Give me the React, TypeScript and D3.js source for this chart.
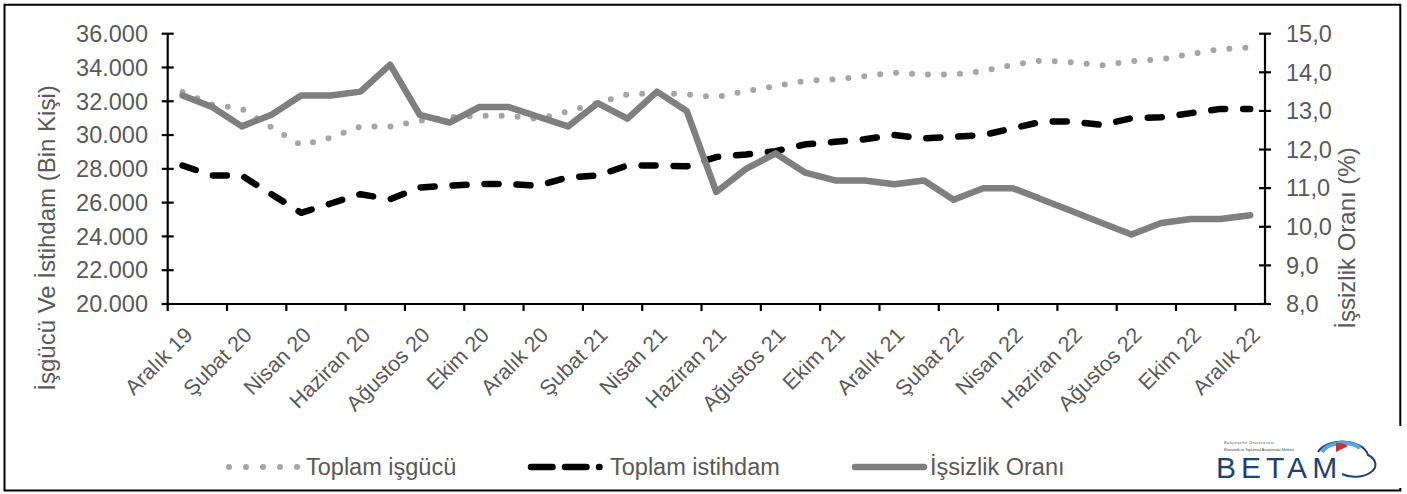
import React from "react";
import * as d3 from "d3";

const months: string[] = [
  "Aralık 19", "Ocak 20", "Şubat 20", "Mart 20", "Nisan 20", "Mayıs 20", "Haziran 20",
  "Temmuz 20", "Ağustos 20", "Eylül 20", "Ekim 20", "Kasım 20", "Aralık 20",
  "Ocak 21", "Şubat 21", "Mart 21", "Nisan 21", "Mayıs 21", "Haziran 21",
  "Temmuz 21", "Ağustos 21", "Eylül 21", "Ekim 21", "Kasım 21", "Aralık 21",
  "Ocak 22", "Şubat 22", "Mart 22", "Nisan 22", "Mayıs 22", "Haziran 22",
  "Temmuz 22", "Ağustos 22", "Eylül 22", "Ekim 22", "Kasım 22", "Aralık 22",
];

// Toplam işgücü (bin kişi)
const isgucu: number[] = [
  32550, 31800, 31550, 30450, 29400, 29850, 30500, 30500, 30850, 31050, 31150, 31150, 30950,
  31400, 31900, 32400, 32500, 32400, 32250, 32600, 32900, 33200, 33300, 33480, 33700,
  33580, 33580, 33780, 34170, 34420, 34300, 34130, 34370, 34480, 34800, 35080, 35180,
];

// Toplam istihdam (bin kişi)
const istihdam: number[] = [
  28200, 27600, 27600, 26500, 25400, 25950, 26500, 26200, 26900, 27000, 27100, 27100, 27000,
  27500, 27600, 28200, 28200, 28150, 28700, 28850, 29050, 29450, 29600, 29750, 30000,
  29800, 29900, 30000, 30400, 30800, 30800, 30600, 31000, 31050, 31300, 31550, 31550,
];

// İşsizlik oranı (%)
const issizlik: number[] = [
  13.4, 13.1, 12.6, 12.9, 13.4, 13.4, 13.5, 14.2, 12.9, 12.7, 13.1, 13.1, 12.85,
  12.6, 13.2, 12.8, 13.5, 13.0, 10.9, 11.5, 11.9, 11.4, 11.2, 11.2, 11.1,
  11.2, 10.7, 11.0, 11.0, 10.7, 10.4, 10.1, 9.8, 10.1, 10.2, 10.2, 10.3,
];

const leftTicks: number[] = [20000, 22000, 24000, 26000, 28000, 30000, 32000, 34000, 36000];
const rightTicks: number[] = [8, 9, 10, 11, 12, 13, 14, 15];

const leftTitle = "İşgücü Ve İstihdam (Bin Kişi)";
const rightTitle = "İşsizlik Oranı (%)";
const seriesNames: string[] = ["Toplam işgücü", "Toplam istihdam", "İşsizlik Oranı"];

const W = 1407;
const H = 494;
const FONT = "'Liberation Sans', Arial, sans-serif";
const TXT = "#595959";

const plot = { left: 167.7, right: 1265, top: 33.7, bottom: 304 };

const fmtLeft = (v: number) => d3.format(",")(v).replace(/,/g, ".");
const fmtRight = (v: number) => d3.format(".1f")(v).replace(".", ",");

export default function App() {
  const idx = months.map((_, i) => i);
  const x = d3.scalePoint<number>().domain(idx).range([plot.left, plot.right]).padding(0.5);
  const step = x.step();
  const yL = d3.scaleLinear().domain([20000, 36000]).range([plot.bottom, plot.top]);
  const yR = d3.scaleLinear().domain([8, 15]).range([plot.bottom, plot.top]);

  const lineL = d3.line<number>().x((_, i) => x(i) as number).y((d) => yL(d));
  const lineR = d3.line<number>().x((_, i) => x(i) as number).y((d) => yR(d));

  const boundaryTicks = d3.range(0, months.length, 2).map((k) => plot.left + k * step);

  const legendY = 467;
  const legendItems = [
    { x0: 229, x1: 299, tx: 306, stroke: "#a5a5a5", width: 6, dash: "0 17" },
    { x0: 531, x1: 599.5, tx: 610, stroke: "#000", width: 6.5, dash: "21.5 12.5" },
    { x0: 855, x1: 924, tx: 930, stroke: "#7f7f7f", width: 6.5, dash: "" },
  ];

  return (
    <svg
      width={W}
      height={H}
      style={{ position: "absolute", left: 0, top: 0, background: "#fff" }}
      fontFamily={FONT}
    >
      <rect x={0} y={0} width={W} height={H} fill="#fff" />
      {/* outer border */}
      <path
        d={`M1400.3,426 V4.8 H4.5 V490.5 H1400.3 V488`}
        fill="none"
        stroke="#000"
        strokeWidth={2}
      />

      {/* series */}
      <path d={lineL(isgucu) || ""} fill="none" stroke="#a5a5a5" strokeWidth={6}
        strokeLinecap="round" strokeLinejoin="round" strokeDasharray="0 16" />
      <path d={lineL(istihdam) || ""} fill="none" stroke="#000" strokeWidth={6.5}
        strokeLinecap="round" strokeLinejoin="round" strokeDasharray="14 18" />
      <path d={lineR(issizlik) || ""} fill="none" stroke="#7f7f7f" strokeWidth={6.5}
        strokeLinecap="round" strokeLinejoin="round" />

      {/* axes */}
      <g stroke="#000" strokeWidth={2.2}>
        <line x1={plot.left} x2={plot.left} y1={plot.top} y2={plot.bottom + 1} />
        <line x1={plot.right} x2={plot.right} y1={plot.top} y2={plot.bottom + 1} />
        <line x1={plot.left} x2={plot.right} y1={plot.bottom} y2={plot.bottom} />
        {leftTicks.map((t) => (
          <line key={"lt" + t} x1={plot.left - 6} x2={plot.left + 6} y1={yL(t)} y2={yL(t)} />
        ))}
        {rightTicks.map((t) => (
          <line key={"rt" + t} x1={plot.right - 6} x2={plot.right + 6} y1={yR(t)} y2={yR(t)} />
        ))}
        {boundaryTicks.map((bx, k) => (
          <line key={"bt" + k} x1={bx} x2={bx} y1={plot.bottom} y2={plot.bottom + 7} />
        ))}
      </g>

      {/* left tick labels */}
      <g fill={TXT} fontSize={23.5} textAnchor="end">
        {leftTicks.map((t) => (
          <text key={"ll" + t} x={148} y={yL(t)} dy="0.35em">{fmtLeft(t)}</text>
        ))}
      </g>
      {/* right tick labels */}
      <g fill={TXT} fontSize={23.5} textAnchor="start">
        {rightTicks.map((t) => (
          <text key={"rl" + t} x={1286} y={yR(t)} dy="0.35em">{fmtRight(t)}</text>
        ))}
      </g>

      {/* x labels */}
      <g fill={TXT} fontSize={21.5} textAnchor="end">
        {idx.filter((i) => i % 2 === 0).map((i) => (
          <text key={"xl" + i} dy="0.35em"
            transform={`translate(${(x(i) as number) + 6},${331}) rotate(-45)`}>
            {months[i]}
          </text>
        ))}
      </g>

      {/* axis titles */}
      <text fill={TXT} fontSize={24} textAnchor="middle" dy="0.35em"
        transform={`translate(47,238) rotate(-90)`}>{leftTitle}</text>
      <text fill={TXT} fontSize={24} textAnchor="middle" dy="0.35em"
        transform={`translate(1347,238) rotate(-90)`}>{rightTitle}</text>

      {/* legend */}
      {legendItems.map((it, k) => (
        <g key={"lg" + k}>
          <line x1={it.x0} x2={it.x1} y1={legendY} y2={legendY} stroke={it.stroke}
            strokeWidth={it.width} strokeLinecap="round"
            strokeDasharray={it.dash || undefined} />
          <text x={it.tx} y={legendY} dy="0.35em" fill={TXT} fontSize={23.5}>{seriesNames[k]}</text>
        </g>
      ))}

      {/* BETAM logo */}
      <g>
        <text x={1224} y={444} fontSize={4} fill="#555" textLength={50}>Bahçeşehir Üniversitesi</text>
        <text x={1224} y={451} fontSize={4} fill="#555" textLength={70}>Ekonomik ve Toplumsal Araştırmalar Merkezi</text>
        <text x={1216} y={478} fontSize={30} fill="#1d4371" letterSpacing={5}>BETAM</text>
        <path d="M1318,452 A26,16 0 0 1 1368,455 A20,12 0 0 1 1342,474" fill="none"
          stroke="#1d4371" strokeWidth={2} />
        <path d="M1322,452 A22,13 0 0 1 1360,448" fill="none" stroke="#5aa6d8" strokeWidth={4} />
        <path d="M1336,452 L1336,443 A14,9 0 0 1 1348,446 Z" fill="#d0312d" />
      </g>
    </svg>
  );
}
